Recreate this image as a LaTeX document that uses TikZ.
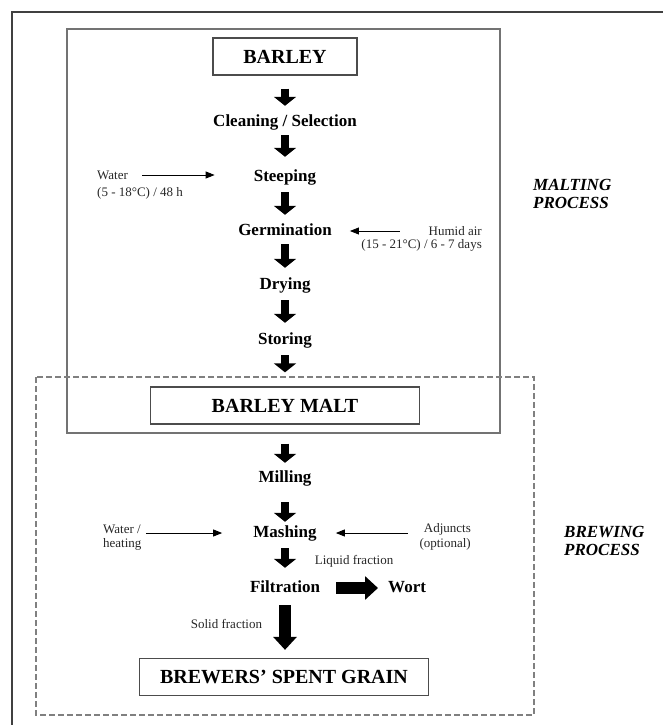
\documentclass[tikz,border=0pt]{standalone}
\usepackage{fontspec}
\setmainfont{Liberation Serif}
\usetikzlibrary{arrows.meta}

\tikzset{
	stepnode/.style={font=\fontsize{17}{17}\selectfont\bfseries, inner sep=0pt, text height=12pt, text depth=4pt},
	boxnode/.style={draw=black!70, line width=1.3pt, font=\fontsize{20}{20}\selectfont\bfseries, minimum height=37pt, inner sep=0pt},
	notenode/.style={font=\fontsize{13}{13}\selectfont, text=black!85, inner sep=0pt},
	procnode/.style={font=\fontsize{17}{18}\selectfont\bfseries\itshape, align=left, inner sep=0pt, anchor=west},
	downarrow/.style={line width=8.5pt, -{Triangle[width=22pt,length=9pt]}},
	bigarrow/.style={line width=12pt, -{Triangle[width=23pt,length=13pt]}},
	thinarrow/.style={line width=0.9pt, -{Triangle[width=7pt,length=9pt]}},
}

\begin{document}
\begin{tikzpicture}[x=1pt, y=-1pt]
			%%%%% START %%%%%
			\useasboundingbox (0,0) rectangle (663,725);
			
			\draw[line width=1.5pt, color=black!75] (12,740) -- (12,12) -- (680,12);
			
			\draw[line width=1.8pt, color=black!55] (67,29) rectangle (500,433);
			\draw[line width=1.3pt, color=black!50, dash pattern=on 6pt off 3pt] (36,377) rectangle (534,715);
			
			\node[boxnode, minimum width=144pt] (barley) at (285,56.5) {BARLEY};
			\node[stepnode] (clean) at (285,122) {Cleaning / Selection};
			\node[stepnode] (steep) at (285,177) {Steeping};
			\node[stepnode] (germ) at (285,231) {Germination};
			\node[stepnode] (dry) at (285,285) {Drying};
			\node[stepnode] (store) at (285,340) {Storing};
			\node[boxnode, minimum width=269pt] (malt) at (285,405.5) {BARLEY MALT};
			\node[stepnode] (mill) at (285,478) {Milling};
			\node[stepnode] (mash) at (285,533) {Mashing};
			\node[stepnode] (filt) at (285,588) {Filtration};
			\node[stepnode, anchor=west] (wort) at (388,588) {Wort};
			\node[boxnode, minimum width=289pt] (bsg) at (284,677) {BREWERS’ SPENT GRAIN};
			
			\node[notenode, anchor=west] (water) at (97,175) {Water};
			\node[notenode, anchor=west] (waterT) at (97,193) {(5 - 18°C) / 48 h};
			\node[notenode, anchor=east] (humid) at (482,231) {Humid air};
			\node[notenode, anchor=east] (humidT) at (482,245) {(15 - 21°C) / 6 - 7 days};
			\node[notenode, anchor=west] (heat) at (103,529) {Water /};
			\node[notenode, anchor=west] (heatT) at (103,544) {heating};
			\node[notenode, anchor=east] (adj) at (471,529) {Adjuncts};
			\node[notenode, anchor=east] (adjT) at (471,544) {(optional)};
			
			\node[procnode] (malting) at (533,194) {MALTING\\PROCESS};
			\node[procnode] (brewing) at (564,541) {BREWING\\PROCESS};
			
			% main line
			\foreach \a/\b/\s/\e in {barley/clean/13/8, clean/steep/5/12, steep/germ/7/8, germ/dry/5/9,
				dry/store/7/9, store/malt/7/14, malt/mill/19/7, mill/mash/16/3, mash/filt/7/12}
				\draw[downarrow, shorten <=\s pt, shorten >=\e pt] (\a.south) -- (\b.north);
			
			\draw[bigarrow, shorten <=16pt, shorten >=10pt] (filt) -- node[notenode, above=15pt] (liquid) {Liquid fraction} (wort);
			\draw[bigarrow, shorten <=9pt, shorten >=8pt] (filt.south) -- node[notenode, left=17pt, pos=0.45] (solid) {Solid fraction} (filt.south |- bsg.north);
			
			% inputs
			\draw[thinarrow, shorten <=14pt, shorten >=39pt] (water.east) -- (water.east -| steep.west);
			\draw[thinarrow, shorten <=29pt, shorten >=18pt] (humid.west) -- (humid.west -| germ.east);
			\draw[thinarrow, shorten <=5pt, shorten >=31pt] (heat.east |- mash) -- (mash);
			\draw[thinarrow, shorten <=16pt, shorten >=19pt] (adj.west |- mash) -- (mash);
			
			%%%%% END %%%%%
\end{tikzpicture}
\end{document}
